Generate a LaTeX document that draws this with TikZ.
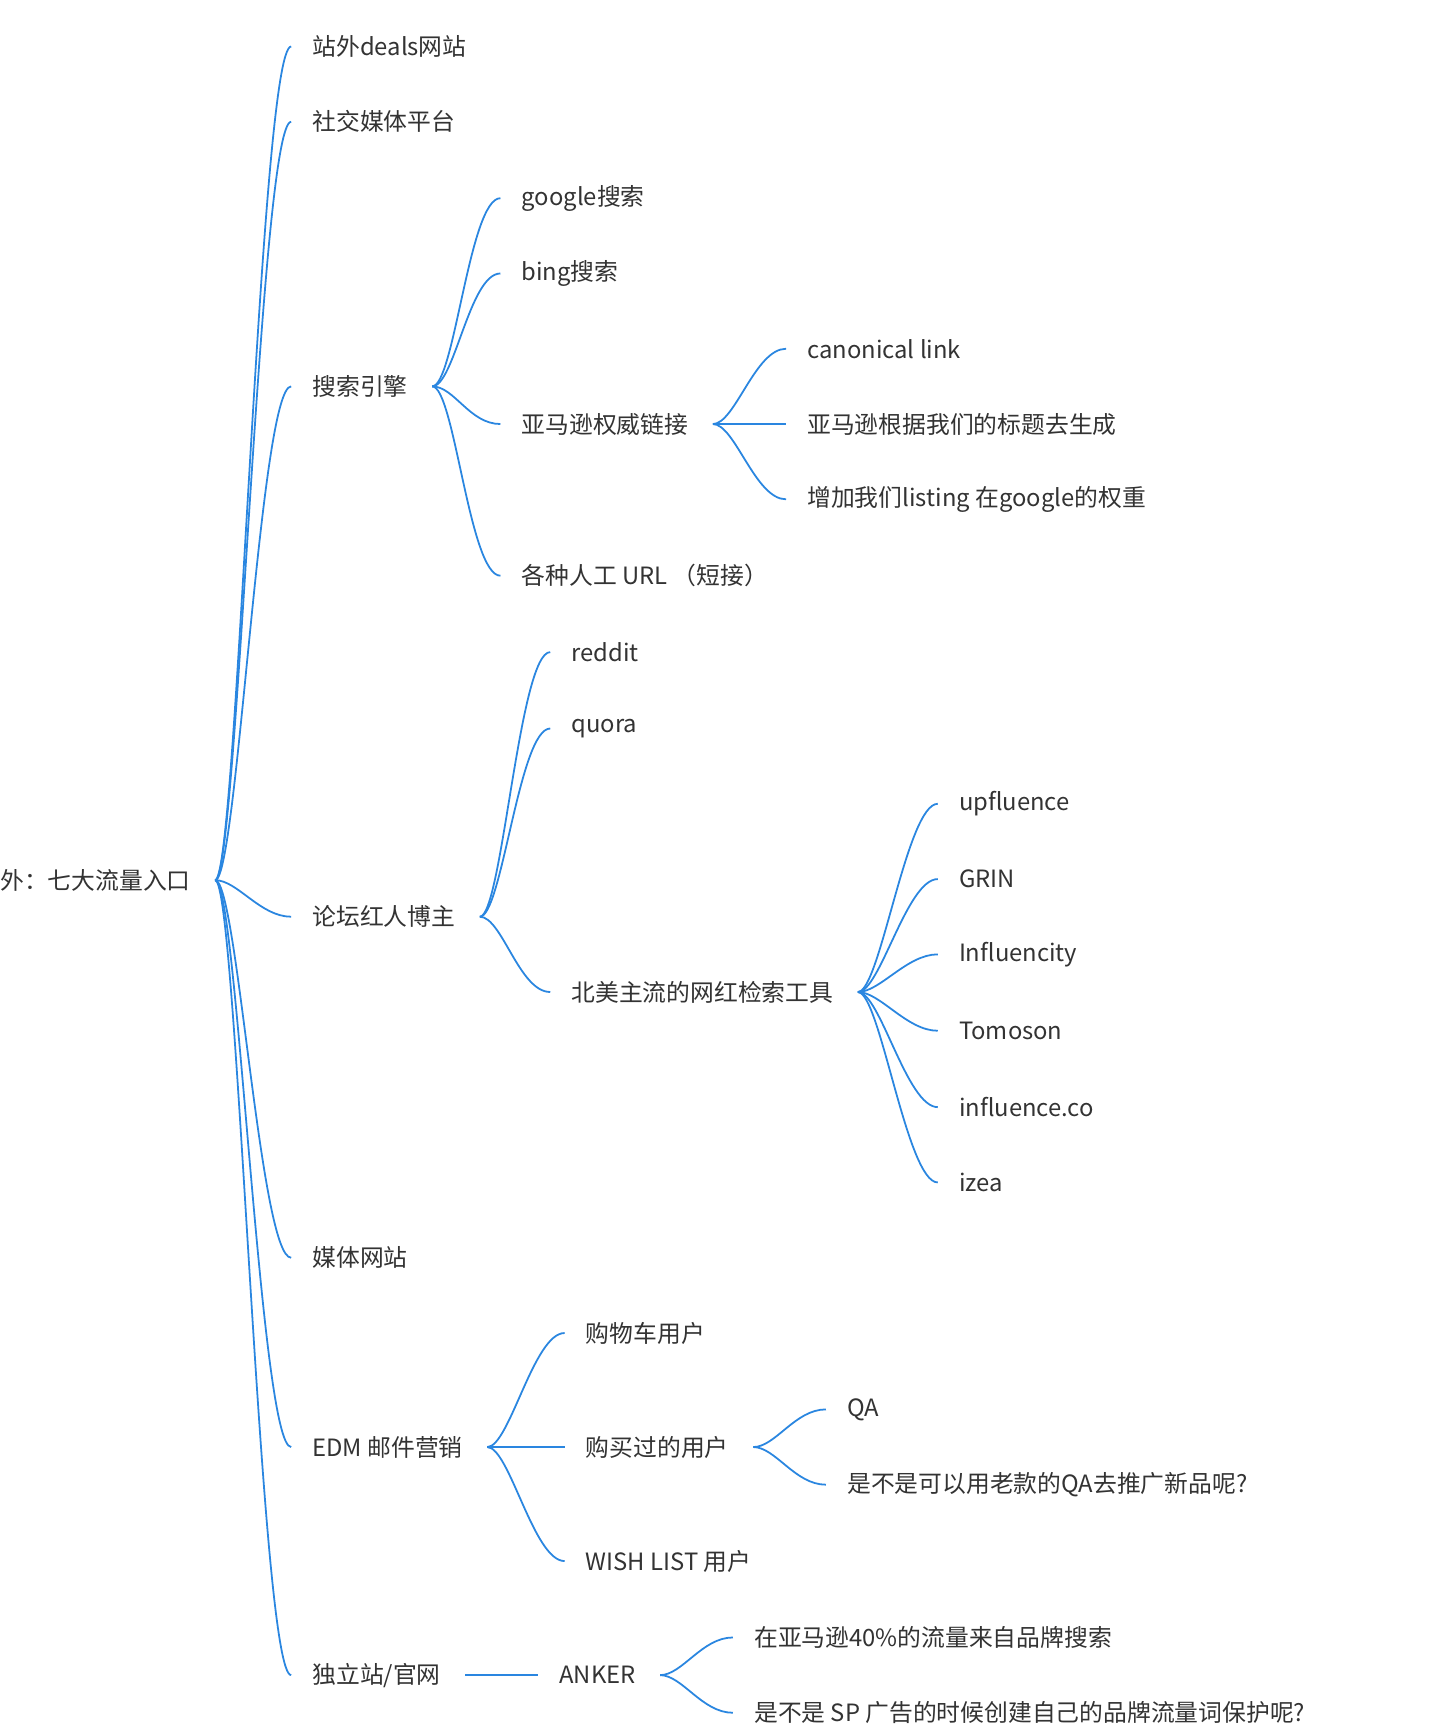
\documentclass[tikz,border=0pt]{standalone}
\usepackage{fontspec}
\setmainfont{Noto Sans CJK SC}
\usetikzlibrary{calc}
\definecolor{ln}{HTML}{2A86E0}
\definecolor{tx}{HTML}{333333}
\begin{document}
\begin{tikzpicture}[x=1pt,y=-1pt,
  t/.style={anchor=west,inner sep=0pt,text=tx,font=\fontsize{21.5}{24}\selectfont},
  br/.style={draw=ln,line width=1.6pt,to path={.. controls ($(\tikztostart)+(20,0)$) and ($(\tikztotarget)+(-28,0)$) .. (\tikztotarget)}},
  st/.style={draw=ln,line width=1.6pt}]
\useasboundingbox (0,0) rectangle (1301,1568);
\fill[white] (0,0) rectangle (1301,1568);
\node[t] (r) at (0,795) {外：七大流量入口};
\node[t] (a1) at (282,42) {站外deals网站};
\node[t] (a2) at (282,110) {社交媒体平台};
\node[t] (a3) at (282,349) {搜索引擎};
\node[t] (a4) at (282,828) {论坛红人博主};
\node[t] (a5) at (282,1136) {媒体网站};
\node[t] (a6) at (282,1307) {EDM 邮件营销};
\node[t] (a7) at (282,1513) {独立站/官网};
\node[t] (b1) at (471,179) {google搜索};
\node[t] (b2) at (471,247) {bing搜索};
\node[t] (b3) at (471,383) {亚马逊权威链接};
\node[t] (b4) at (471,520) {各种人工 URL （短接）};
\node[t] (c1) at (729,315) {canonical link};
\node[t] (c2) at (729,383) {亚马逊根据我们的标题去生成};
\node[t] (c3) at (729,451) {增加我们listing 在google的权重};
\node[t] (d1) at (516,589) {reddit};
\node[t] (d2) at (516,658) {quora};
\node[t] (d3) at (516,896) {北美主流的网红检索工具};
\node[t] (e1) at (866,726) {upfluence};
\node[t] (e2) at (866,794) {GRIN};
\node[t] (e3) at (866,862) {Influencity};
\node[t] (e4) at (866,931) {Tomoson};
\node[t] (e5) at (866,1000) {influence.co};
\node[t] (e6) at (866,1068) {izea};
\node[t] (f1) at (529,1204) {购物车用户};
\node[t] (f2) at (529,1307) {购买过的用户};
\node[t] (f3) at (529,1410) {WISH LIST 用户};
\node[t] (g1) at (765,1273) {QA};
\node[t] (g2) at (765,1341) {是不是可以用老款的QA去推广新品呢?};
\node[t] (h) at (505,1513) {ANKER};
\node[t] (i1) at (681,1479) {在亚马逊40\%的流量来自品牌搜索};
\node[t] (i2) at (681,1547) {是不是 SP 广告的时候创建自己的品牌流量词保护呢?};
\foreach \p/\c in {r/a1,r/a2,r/a3,r/a4,r/a5,r/a6,r/a7,
  a3/b1,a3/b2,a3/b3,a3/b4,b3/c1,b3/c2,b3/c3,
  a4/d1,a4/d2,a4/d3,d3/e1,d3/e2,d3/e3,d3/e4,d3/e5,d3/e6,
  a6/f1,a6/f2,a6/f3,f2/g1,f2/g2,h/i1,h/i2}
  \draw[br] ([xshift=22pt]\p.east) to ([xshift=-19pt]\c.west);
\draw[st] ([xshift=22pt]a7.east) -- ([xshift=-19pt]h.west);
\end{tikzpicture}
\end{document}
